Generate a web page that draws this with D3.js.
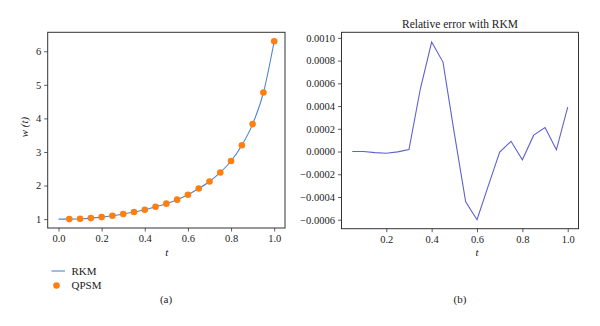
<!DOCTYPE html>
<html>
<head>
<meta charset="utf-8">
<script src="https://cdn.jsdelivr.net/npm/d3@7"></script>
<style>
  html, body { margin: 0; padding: 0; background: #fff; }
  svg { display: block; font-family: "Liberation Serif", "DejaVu Serif", serif; }
</style>
</head>
<body>
<svg id="chart" width="600" height="326"></svg>
<script>
// Solution w(t) from the Runge-Kutta method (t = 0 … 1, step 0.05)
const rkmT = [0, 0.05, 0.10, 0.15, 0.20, 0.25, 0.30, 0.35, 0.40, 0.45, 0.50,
              0.55, 0.60, 0.65, 0.70, 0.75, 0.80, 0.85, 0.90, 0.95, 1.00];
const rkmW = [1.00, 1.00, 1.01, 1.03, 1.06, 1.10, 1.15, 1.21, 1.28, 1.37, 1.46,
              1.58, 1.726, 1.91, 2.12, 2.39, 2.73, 3.20, 3.83, 4.77, 6.30];

// QPSM solution points
const qpsmT = [0.05, 0.10, 0.15, 0.20, 0.25, 0.30, 0.35, 0.40, 0.45, 0.50,
               0.55, 0.60, 0.65, 0.70, 0.75, 0.80, 0.85, 0.90, 0.95, 1.00];
const qpsmW = [1.00, 1.01, 1.03, 1.06, 1.10, 1.15, 1.21, 1.28, 1.37, 1.46,
               1.58, 1.726, 1.91, 2.12, 2.39, 2.73, 3.20, 3.83, 4.77, 6.30];

// Relative error of QPSM against RKM
const errT = qpsmT;
const errV = [0.0, 0.0, -0.00001, -0.000015, -0.000003, 0.000018, 0.00055, 0.000963, 0.000787, 0.00016,
              -0.000443, -0.0006, -0.0003, -0.000005, 0.00009, -0.000073, 0.000144, 0.000211, 0.000015, 0.00039];

const leftXTicks = [0.0, 0.2, 0.4, 0.6, 0.8, 1.0];
const leftYTicks = [1, 2, 3, 4, 5, 6];
const rightXTicks = [0.2, 0.4, 0.6, 0.8, 1.0];
const rightYTicks = [-0.0006, -0.0004, -0.0002, 0.0, 0.0002, 0.0004, 0.0006, 0.0008, 0.0010];

const svg = d3.select("#chart");
const frameColor = "#333";
const textColor = "#222";
const tickFont = "10.5px";

function styleAxis(g) {
  g.select(".domain").remove();
  g.selectAll(".tick line").attr("stroke", frameColor).attr("stroke-width", 0.8);
  g.selectAll(".tick text").attr("fill", textColor)
    .style("font-size", tickFont)
    .style("font-family", "'Liberation Serif', serif");
}

function frame(x0, x1, y0, y1) {
  svg.append("rect")
    .attr("x", x0).attr("y", y0)
    .attr("width", x1 - x0).attr("height", y1 - y0)
    .attr("fill", "none").attr("stroke", frameColor).attr("stroke-width", 1);
}

// ---------- Panel (a): w(t) ----------
const aL = 47.7, aR = 285, aT = 32.3, aB = 228;
const xa = d3.scaleLinear().domain([-0.05, 1.05]).range([aL, aR]);
const ya = d3.scaleLinear().domain([0.735, 6.565]).range([aB, aT]);

svg.append("g").attr("transform", `translate(0,${aB})`)
  .call(d3.axisBottom(xa).tickValues(leftXTicks).tickFormat(d3.format(".1f")).tickSize(3.5).tickPadding(3))
  .call(styleAxis);
svg.append("g").attr("transform", `translate(${aL},0)`)
  .call(d3.axisLeft(ya).tickValues(leftYTicks).tickFormat(d3.format("d")).tickSize(3.5).tickPadding(3))
  .call(styleAxis);

const rkmLine = d3.line()
  .x((d, i) => xa(rkmT[i]))
  .y(d => ya(d))
  .curve(d3.curveMonotoneX);
svg.append("path")
  .attr("d", rkmLine(rkmW))
  .attr("fill", "none")
  .attr("stroke", "#4f86cf")
  .attr("stroke-width", 1.1);

svg.append("g").selectAll("circle")
  .data(qpsmW)
  .join("circle")
  .attr("cx", (d, i) => xa(qpsmT[i]))
  .attr("cy", d => ya(d))
  .attr("r", 3.3)
  .attr("fill", "#ff7f0e");

frame(aL, aR, aT, aB);

svg.append("text")
  .attr("x", (aL + aR) / 2 + 0.5).attr("y", 256)
  .attr("text-anchor", "middle")
  .style("font-style", "italic").style("font-size", "11px")
  .attr("fill", textColor).text("t");

svg.append("text")
  .attr("transform", "translate(28,127) rotate(-90)")
  .attr("text-anchor", "middle")
  .style("font-style", "italic").style("font-size", "11px")
  .attr("fill", textColor).text("w (t)");

// Legend
const legend = svg.append("g");
legend.append("line")
  .attr("x1", 51.5).attr("x2", 65).attr("y1", 271).attr("y2", 271)
  .attr("stroke", "#4f86cf").attr("stroke-width", 1.1);
legend.append("text").attr("x", 71.5).attr("y", 275)
  .style("font-size", "11px").attr("fill", textColor).text("RKM");
legend.append("circle").attr("cx", 56.5).attr("cy", 285.5).attr("r", 3.3).attr("fill", "#ff7f0e");
legend.append("text").attr("x", 71.5).attr("y", 289)
  .style("font-size", "11px").attr("fill", textColor).text("QPSM");

svg.append("text")
  .attr("x", 166).attr("y", 303)
  .attr("text-anchor", "middle").style("font-size", "11px")
  .attr("fill", textColor).text("(a)");

// ---------- Panel (b): relative error ----------
const bL = 341.5, bR = 578.5, bT = 32.3, bB = 228.7;
const xb = d3.scaleLinear().domain([0.0025, 1.0475]).range([bL, bR]);
const yb = d3.scaleLinear().domain([-0.000679, 0.001049]).range([bB, bT]);

svg.append("g").attr("transform", `translate(0,${bB})`)
  .call(d3.axisBottom(xb).tickValues(rightXTicks).tickFormat(d3.format(".1f")).tickSize(3.5).tickPadding(3))
  .call(styleAxis);
svg.append("g").attr("transform", `translate(${bL},0)`)
  .call(d3.axisLeft(yb).tickValues(rightYTicks)
    .tickFormat(d => d3.format(".4f")(d).replace("-", "\u2212")).tickSize(3.5).tickPadding(3))
  .call(styleAxis);

const errLine = d3.line()
  .x((d, i) => xb(errT[i]))
  .y(d => yb(d));
svg.append("path")
  .attr("d", errLine(errV))
  .attr("fill", "none")
  .attr("stroke", "#5e62cc")
  .attr("stroke-width", 1.1)
  .attr("stroke-linejoin", "miter");

frame(bL, bR, bT, bB);

svg.append("text")
  .attr("x", (bL + bR) / 2).attr("y", 28)
  .attr("text-anchor", "middle").style("font-size", "11.5px")
  .attr("fill", textColor).text("Relative error with RKM");

svg.append("text")
  .attr("x", 477).attr("y", 256)
  .attr("text-anchor", "middle")
  .style("font-style", "italic").style("font-size", "11px")
  .attr("fill", textColor).text("t");

svg.append("text")
  .attr("x", 460).attr("y", 303)
  .attr("text-anchor", "middle").style("font-size", "11px")
  .attr("fill", textColor).text("(b)");
</script>
</body>
</html>
